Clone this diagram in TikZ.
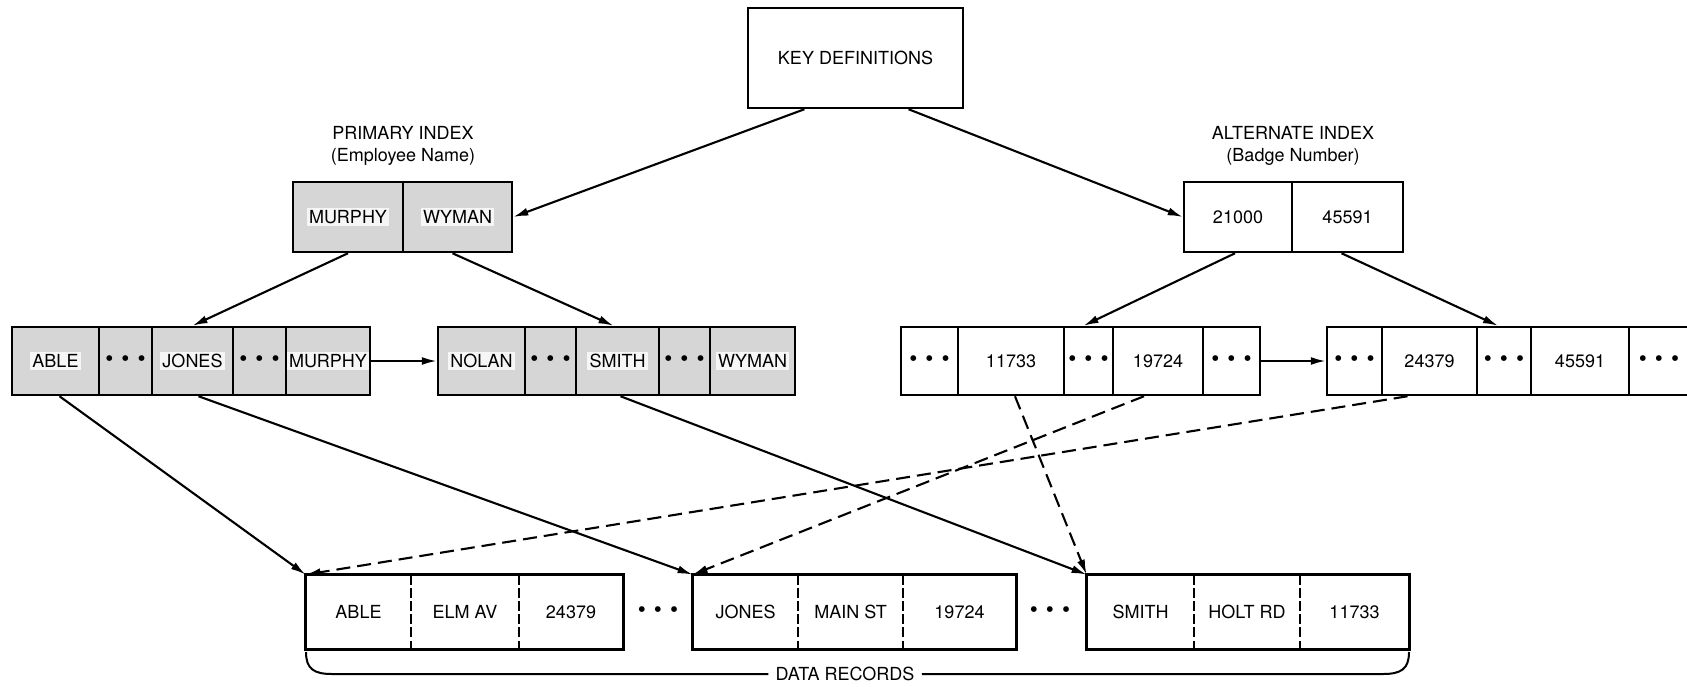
\documentclass[tikz,border=0pt]{standalone}
\usepackage{fontspec}
\setmainfont{TeX Gyre Heros}
\usetikzlibrary{arrows.meta,calc}
\newcommand\lbox[1]{{\setlength\fboxsep{1.2pt}\colorbox{gray!7}{#1}}}
\newcommand\tdots{{\fontsize{11.5}{11.5}\selectfont •\hspace{4pt}•\hspace{4pt}•}}
\begin{document}
\begin{tikzpicture}[x=0.5pt,y=-0.5pt,
  every node/.style={font=\fontsize{9}{10}\selectfont, inner sep=0pt},
  boxline/.style={line width=1.25pt},
  keybox/.style={draw, boxline, fill=white},
  pcell/.style={draw, boxline, fill=gray!32},
  acell/.style={draw, boxline, fill=white},
  rcell/.style={minimum height=37pt},
  lbl/.style={},
  divider/.style={line width=1pt, dash pattern=on 5pt off 1.6pt},
  arr/.style={line width=1.05pt, -{Latex[length=7.5pt,width=4pt]}},
  darr/.style={line width=1.05pt, dash pattern=on 7pt off 3.5pt, -{Latex[length=7.5pt,width=4pt]}},
]
\useasboundingbox (0,0) rectangle (1687,686);
\clip (0,0) rectangle (1687,686);

% key definitions
\node[keybox, minimum width=107.5pt, minimum height=50pt] (key) at (855.5,58) {KEY DEFINITIONS};

% primary index root
\node[lbl] (plab) at (403,133) {PRIMARY INDEX};
\node[lbl] (psub) at (403,157) {(Employee Name)};
\node[pcell, minimum width=55pt, minimum height=35pt] (pr1) at (348,217) {\lbox{MURPHY}};
\node[pcell, minimum width=54.5pt, minimum height=35pt] (pr2) at (457.5,217) {\lbox{WYMAN}};

% alternate index root
\node[lbl] (alab) at (1293,133) {ALTERNATE INDEX};
\node[lbl] (asub) at (1293,157) {(Badge Number)};
\node[acell, minimum width=54pt, minimum height=35pt] (ar1) at (1238,217) {21000};
\node[acell, minimum width=55.5pt, minimum height=35pt] (ar2) at (1347.5,217) {45591};

% primary leaves
\begin{scope}[every node/.append style={minimum height=34pt}]
\node[pcell, minimum width=43.5pt] (l1a) at (55.5,361) {\lbox{ABLE}};
\node[pcell, minimum width=26.5pt] (l1b) at (125.5,361) {\tdots};
\node[pcell, minimum width=40.5pt] (l1c) at (192.5,361) {\lbox{JONES}};
\node[pcell, minimum width=26.5pt] (l1d) at (259.5,361) {\tdots};
\node[pcell, minimum width=42pt] (l1e) at (328,361) {\lbox{MURPHY}};
\node[pcell, minimum width=43.5pt] (l2a) at (481.5,361) {\lbox{NOLAN}};
\node[pcell, minimum width=25.5pt] (l2b) at (550.5,361) {\tdots};
\node[pcell, minimum width=41.5pt] (l2c) at (617.5,361) {\lbox{SMITH}};
\node[pcell, minimum width=25.5pt] (l2d) at (684.5,361) {\tdots};
\node[pcell, minimum width=42.5pt] (l2e) at (752.5,361) {\lbox{WYMAN}};
% alternate leaves
\node[acell, minimum width=28.5pt] (a1a) at (929.5,361) {\tdots};
\node[acell, minimum width=53pt] (a1b) at (1011,361) {11733};
\node[acell, minimum width=24.5pt] (a1c) at (1088.5,361) {\tdots};
\node[acell, minimum width=45pt] (a1d) at (1158,361) {19724};
\node[acell, minimum width=28.5pt] (a1e) at (1231.5,361) {\tdots};
\node[acell, minimum width=27.5pt] (a2a) at (1354.5,361) {\tdots};
\node[acell, minimum width=47.5pt] (a2b) at (1429.5,361) {24379};
\node[acell, minimum width=27pt] (a2c) at (1504,361) {\tdots};
\node[acell, minimum width=49pt] (a2d) at (1580,361) {45591};
\node[acell, minimum width=30pt] (a2e) at (1659,361) {\tdots};
\end{scope}

% data records
\begin{scope}[every node/.append style={rcell}]
\node[minimum width=52.5pt] (r1a) at (358.5,612) {ABLE};
\node[minimum width=54pt] (r1b) at (465,612) {ELM AV};
\node[minimum width=52pt] (r1c) at (571,612) {24379};
\node[minimum width=52.5pt] (r2a) at (745.5,612) {JONES};
\node[minimum width=52.5pt] (r2b) at (850.5,612) {MAIN ST};
\node[minimum width=56.5pt] (r2c) at (959.5,612) {19724};
\node[minimum width=53.5pt] (r3a) at (1140.5,612) {SMITH};
\node[minimum width=53pt] (r3b) at (1247,612) {HOLT RD};
\node[minimum width=54.5pt] (r3c) at (1354.5,612) {11733};
\end{scope}
\node (d1) at (658,612) {\tdots};
\node (d2) at (1050,612) {\tdots};

\draw[boxline] (r1a.north west) rectangle (r1c.south east);
\draw[boxline] (r2a.north west) rectangle (r2c.south east);
\draw[boxline] (r3a.north west) rectangle (r3c.south east);
\draw[divider] (r1a.north east) -- (r1a.south east) (r1b.north east) -- (r1b.south east);
\draw[divider] (r2a.north east) -- (r2a.south east) (r2b.north east) -- (r2b.south east);
\draw[divider] (r3a.north east) -- (r3a.south east) (r3b.north east) -- (r3b.south east);

% data records brace
\node[inner xsep=3.5pt] (dr) at (845,674) {DATA RECORDS};
\coordinate (bl) at (306,652);
\coordinate (br) at (1409,652);
\draw[line width=1pt] (bl) .. controls (306,669) and (314,674) .. (332,674) -- (dr.west);
\draw[line width=1pt] (dr.east) -- (1383,674) .. controls (1401,674) and (1409,669) .. (br);

% connectors
\draw[arr] ($(key.south west)!0.265!(key.south east)$) -- (pr2.east);
\draw[arr] ($(key.south west)!0.744!(key.south east)$) -- (ar1.west);
\draw[arr] (pr1.south) -- (l1c.north);
\draw[arr] ($(pr2.south)+(-5,0)$) -- ($(l2c.north)+(-4,0)$);
\draw[arr] ($(ar1.south)+(-3,0)$) -- ($(a1c.north)+(-5,0)$);
\draw[arr] ($(ar2.south)+(-6,0)$) -- ($(a2c.north)+(-6,0)$);
\draw[arr] (l1e.east) -- (l2a.west);
\draw[arr] (a1e.east) -- (a2a.west);
\draw[arr] ($(l1a.south)+(4,0)$) -- (r1a.north west);
\draw[arr] ($(l1c.south)+(6,0)$) -- (r2a.north west);
\draw[arr] ($(l2c.south)+(3,0)$) -- (r3a.north west);
\draw[darr] ($(a1b.south)+(4,0)$) -- (r3a.north west);
\draw[darr] ($(a1d.south)+(-14,0)$) -- (r2a.north west);
\draw[darr] ($(a2b.south)+(-22,0)$) -- (r1a.north west);
\end{tikzpicture}
\end{document}
